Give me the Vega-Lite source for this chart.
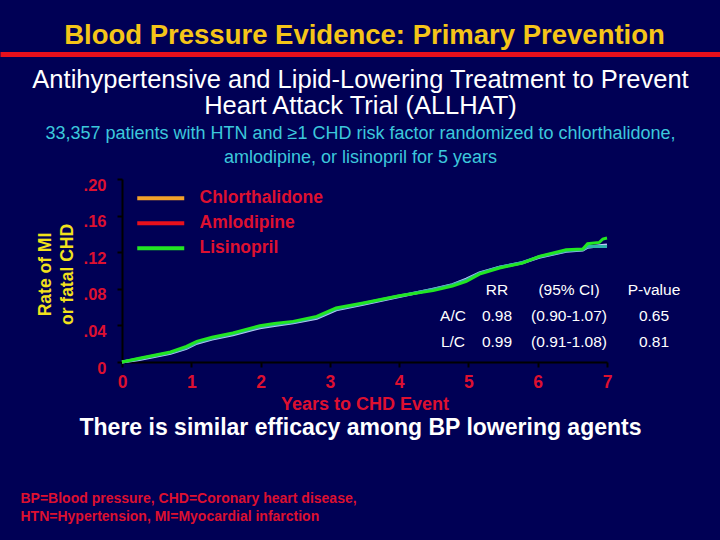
{
  "$schema": "https://vega.github.io/schema/vega-lite/v6.json",
  "width": 485,
  "height": 183,
  "autosize": {"type": "none"},
  "padding": {"left": 122, "top": 179, "right": 113, "bottom": 178},
  "background": "#000055",
  "config": {"view": {"stroke": null}, "axis": {"grid": false}},
  "title": {
    "text": "Blood Pressure Evidence: Primary Prevention",
    "color": "#f5c518",
    "font": "Liberation Sans",
    "fontSize": 27.5,
    "fontWeight": "bold",
    "anchor": "middle",
    "baseline": "alphabetic",
    "offset": 6,
    "dy": 23
  },
  "datasets": {
    "curves": [
      {"drug": "Chlorthalidone", "year": 0, "rate": 0},
      {"drug": "Chlorthalidone", "year": 0.25, "rate": 0.0028},
      {"drug": "Chlorthalidone", "year": 0.45, "rate": 0.0058},
      {"drug": "Chlorthalidone", "year": 0.7, "rate": 0.0095},
      {"drug": "Chlorthalidone", "year": 0.93, "rate": 0.0148},
      {"drug": "Chlorthalidone", "year": 1.08, "rate": 0.0205},
      {"drug": "Chlorthalidone", "year": 1.3, "rate": 0.025},
      {"drug": "Chlorthalidone", "year": 1.6, "rate": 0.0298},
      {"drug": "Chlorthalidone", "year": 1.99, "rate": 0.0375},
      {"drug": "Chlorthalidone", "year": 2.2, "rate": 0.04},
      {"drug": "Chlorthalidone", "year": 2.47, "rate": 0.0428},
      {"drug": "Chlorthalidone", "year": 2.81, "rate": 0.0478},
      {"drug": "Chlorthalidone", "year": 3.09, "rate": 0.057},
      {"drug": "Chlorthalidone", "year": 3.48, "rate": 0.063},
      {"drug": "Chlorthalidone", "year": 4.0, "rate": 0.0715},
      {"drug": "Chlorthalidone", "year": 4.49, "rate": 0.0795},
      {"drug": "Chlorthalidone", "year": 4.77, "rate": 0.0845},
      {"drug": "Chlorthalidone", "year": 4.97, "rate": 0.0905},
      {"drug": "Chlorthalidone", "year": 5.16, "rate": 0.0975},
      {"drug": "Chlorthalidone", "year": 5.45, "rate": 0.1035},
      {"drug": "Chlorthalidone", "year": 5.78, "rate": 0.1085},
      {"drug": "Chlorthalidone", "year": 6.02, "rate": 0.1145},
      {"drug": "Chlorthalidone", "year": 6.41, "rate": 0.121},
      {"drug": "Chlorthalidone", "year": 6.65, "rate": 0.1225},
      {"drug": "Chlorthalidone", "year": 6.72, "rate": 0.1255},
      {"drug": "Chlorthalidone", "year": 6.89, "rate": 0.127},
      {"drug": "Chlorthalidone", "year": 7.0, "rate": 0.128},
      {"drug": "Amlodipine", "year": 0, "rate": 0},
      {"drug": "Amlodipine", "year": 0.25, "rate": 0.0035},
      {"drug": "Amlodipine", "year": 0.45, "rate": 0.0065},
      {"drug": "Amlodipine", "year": 0.7, "rate": 0.0102},
      {"drug": "Amlodipine", "year": 0.93, "rate": 0.0158},
      {"drug": "Amlodipine", "year": 1.08, "rate": 0.0215},
      {"drug": "Amlodipine", "year": 1.3, "rate": 0.026},
      {"drug": "Amlodipine", "year": 1.6, "rate": 0.0308},
      {"drug": "Amlodipine", "year": 1.99, "rate": 0.0386},
      {"drug": "Amlodipine", "year": 2.2, "rate": 0.041},
      {"drug": "Amlodipine", "year": 2.47, "rate": 0.0436},
      {"drug": "Amlodipine", "year": 2.81, "rate": 0.0488},
      {"drug": "Amlodipine", "year": 3.09, "rate": 0.058},
      {"drug": "Amlodipine", "year": 3.48, "rate": 0.064},
      {"drug": "Amlodipine", "year": 4.0, "rate": 0.0722},
      {"drug": "Amlodipine", "year": 4.49, "rate": 0.0792},
      {"drug": "Amlodipine", "year": 4.77, "rate": 0.0842},
      {"drug": "Amlodipine", "year": 4.97, "rate": 0.0895},
      {"drug": "Amlodipine", "year": 5.16, "rate": 0.0968},
      {"drug": "Amlodipine", "year": 5.45, "rate": 0.1035},
      {"drug": "Amlodipine", "year": 5.78, "rate": 0.1088},
      {"drug": "Amlodipine", "year": 6.02, "rate": 0.115},
      {"drug": "Amlodipine", "year": 6.41, "rate": 0.1215},
      {"drug": "Amlodipine", "year": 6.65, "rate": 0.1228},
      {"drug": "Amlodipine", "year": 6.72, "rate": 0.1262},
      {"drug": "Amlodipine", "year": 6.89, "rate": 0.1262},
      {"drug": "Amlodipine", "year": 7.0, "rate": 0.1262},
      {"drug": "Lisinopril", "year": 0, "rate": 0},
      {"drug": "Lisinopril", "year": 0.25, "rate": 0.004},
      {"drug": "Lisinopril", "year": 0.45, "rate": 0.0072},
      {"drug": "Lisinopril", "year": 0.7, "rate": 0.011},
      {"drug": "Lisinopril", "year": 0.93, "rate": 0.017},
      {"drug": "Lisinopril", "year": 1.08, "rate": 0.0225},
      {"drug": "Lisinopril", "year": 1.3, "rate": 0.027},
      {"drug": "Lisinopril", "year": 1.6, "rate": 0.0317},
      {"drug": "Lisinopril", "year": 1.99, "rate": 0.0397},
      {"drug": "Lisinopril", "year": 2.2, "rate": 0.042},
      {"drug": "Lisinopril", "year": 2.47, "rate": 0.0444},
      {"drug": "Lisinopril", "year": 2.81, "rate": 0.0498},
      {"drug": "Lisinopril", "year": 3.09, "rate": 0.059},
      {"drug": "Lisinopril", "year": 3.48, "rate": 0.0645},
      {"drug": "Lisinopril", "year": 4.0, "rate": 0.0725},
      {"drug": "Lisinopril", "year": 4.49, "rate": 0.078},
      {"drug": "Lisinopril", "year": 4.77, "rate": 0.083},
      {"drug": "Lisinopril", "year": 4.97, "rate": 0.088},
      {"drug": "Lisinopril", "year": 5.16, "rate": 0.096},
      {"drug": "Lisinopril", "year": 5.45, "rate": 0.1027},
      {"drug": "Lisinopril", "year": 5.78, "rate": 0.108},
      {"drug": "Lisinopril", "year": 6.02, "rate": 0.1154},
      {"drug": "Lisinopril", "year": 6.41, "rate": 0.1227},
      {"drug": "Lisinopril", "year": 6.65, "rate": 0.1235},
      {"drug": "Lisinopril", "year": 6.72, "rate": 0.1293},
      {"drug": "Lisinopril", "year": 6.89, "rate": 0.1307},
      {"drug": "Lisinopril", "year": 6.94, "rate": 0.1344},
      {"drug": "Lisinopril", "year": 7.0, "rate": 0.1355}
    ],
    "table": [
      {"row": "header", "col": 1, "text": "RR"},
      {"row": "header", "col": 2, "text": "(95% CI)"},
      {"row": "header", "col": 3, "text": "P-value"},
      {"row": "A/C", "col": 0, "text": "A/C"},
      {"row": "A/C", "col": 1, "text": "0.98"},
      {"row": "A/C", "col": 2, "text": "(0.90-1.07)"},
      {"row": "A/C", "col": 3, "text": "0.65"},
      {"row": "L/C", "col": 0, "text": "L/C"},
      {"row": "L/C", "col": 1, "text": "0.99"},
      {"row": "L/C", "col": 2, "text": "(0.91-1.08)"},
      {"row": "L/C", "col": 3, "text": "0.81"}
    ]
  },
  "layer": [
    {
      "data": {"name": "curves"},
      "encoding": {
        "x": {
          "field": "year",
          "type": "quantitative",
          "scale": {"domain": [0, 7], "nice": false, "zero": false},
          "axis": {
            "orient": "bottom",
            "values": [0, 1, 2, 3, 4, 5, 6, 7],
            "format": "d",
            "grid": false,
            "domainColor": "#000000",
            "domainWidth": 2,
            "tickColor": "#000000",
            "tickWidth": 2,
            "tickSize": 5,
            "labelColor": "#dd1030",
            "labelFont": "Liberation Sans",
            "labelFontSize": 17.5,
            "labelFontWeight": "bold",
            "labelPadding": 6,
            "labelFlush": false,
            "labelOverlap": false,
            "title": "Years to CHD Event",
            "titleColor": "#dd1030",
            "titleFont": "Liberation Sans",
            "titleFontSize": 18,
            "titleFontWeight": "bold",
            "titleY": 42,
            "titleBaseline": "middle"
          }
        },
        "y": {
          "field": "rate",
          "type": "quantitative",
          "scale": {"domain": [0, 0.2], "nice": false},
          "axis": {
            "orient": "left",
            "values": [0, 0.04, 0.08, 0.12, 0.16, 0.2],
            "labelExpr": "datum.value == 0 ? '0' : replace(format(datum.value, '.2f'), '0.', '.')",
            "grid": false,
            "domainColor": "#000000",
            "domainWidth": 2,
            "tickColor": "#000000",
            "tickWidth": 2,
            "tickSize": 5,
            "labelColor": "#dd1030",
            "labelFont": "Liberation Sans",
            "labelFontSize": 16.5,
            "labelFontWeight": "bold",
            "labelPadding": 11,
            "labelOffset": 6,
            "labelFlush": false,
            "labelOverlap": false,
            "title": ["Rate of MI", "or fatal CHD"],
            "titleColor": "#f2e21c",
            "titleFont": "Liberation Sans",
            "titleFontSize": 17.5,
            "titleFontWeight": "bold",
            "titleLineHeight": 22,
            "titleX": -77,
            "titleY": 95,
            "titleBaseline": "middle",
            "titleAlign": "center",
            "titleAngle": -90
          }
        }
      },
      "layer": [
        {
          "mark": {"type": "line", "strokeWidth": 1},
          "encoding": {
            "color": {
              "field": "drug",
              "type": "nominal",
              "scale": {
                "domain": ["Chlorthalidone", "Amlodipine", "Lisinopril"],
                "range": ["#f2a12a", "#e8101c", "#22e622"]
              },
              "legend": {
                "orient": "none",
                "legendX": 30,
                "legendY": 10.5,
                "title": null,
                "padding": 0,
                "symbolType": "M-4,0H4",
                "symbolSize": 138,
                "symbolStrokeWidth": 4,
                "symbolOpacity": 1,
                "labelColor": "#dd1030",
                "labelFont": "Liberation Sans",
                "labelFontSize": 17.5,
                "labelFontWeight": "bold",
                "labelOffset": 30,
                "rowPadding": 6
              }
            }
          }
        },
        {
          "mark": {"type": "line", "strokeWidth": 3, "interpolate": "linear"},
          "encoding": {
            "stroke": {
              "field": "drug",
              "type": "nominal",
              "scale": {
                "domain": ["Chlorthalidone", "Amlodipine", "Lisinopril"],
                "range": ["#b8c8f2", "#2fb4aa", "#22e622"]
              },
              "legend": null
            }
          }
        }
      ]
    },
    {
      "data": {"name": "table"},
      "mark": {"type": "text", "color": "#ffffff", "font": "Liberation Sans", "fontSize": 15.5, "align": "center", "baseline": "middle"},
      "encoding": {
        "x": {
          "field": "col",
          "type": "quantitative",
          "scale": {"domain": [0, 1, 2, 3], "range": [331, 375, 447, 532]},
          "axis": null
        },
        "y": {
          "field": "row",
          "type": "nominal",
          "scale": {"type": "point", "domain": ["header", "A/C", "L/C"], "range": [111, 163], "padding": 0},
          "axis": null
        },
        "text": {"field": "text"}
      }
    },
    {
      "data": {"values": [{}]},
      "mark": {"type": "point", "opacity": 0},
      "encoding": {
        "x": {
          "datum": 0,
          "type": "quantitative",
          "scale": {"domain": [0, 1]},
          "axis": {
            "orient": "top",
            "domain": false,
            "ticks": false,
            "labels": false,
            "title": ["33,357 patients with HTN and ≥1 CHD risk factor randomized to chlorthalidone,", "amlodipine, or lisinopril for 5 years"],
            "titleColor": "#3cc8dc",
            "titleFont": "Liberation Sans",
            "titleFontSize": 18,
            "titleFontWeight": "normal",
            "titleLineHeight": 24,
            "titleBaseline": "middle",
            "titleAlign": "center",
            "titleX": 238,
            "titleY": -46
          }
        }
      }
    },
    {
      "data": {"values": [{}]},
      "mark": {"type": "point", "opacity": 0},
      "encoding": {
        "x": {
          "datum": 0,
          "type": "quantitative",
          "scale": {"domain": [0, 1], "range": [-122, 598]},
          "axis": {
            "orient": "top",
            "offset": 125,
            "domain": true,
            "domainColor": "#e8101c",
            "domainWidth": 5,
            "ticks": false,
            "labels": false,
            "title": ["Antihypertensive and Lipid-Lowering Treatment to Prevent", "Heart Attack Trial (ALLHAT)"],
            "titleColor": "#ffffff",
            "titleFont": "Liberation Sans",
            "titleFontSize": 25.5,
            "titleFontWeight": "normal",
            "titleLineHeight": 26.5,
            "titleBaseline": "middle",
            "titleAlign": "center",
            "titleX": 238,
            "titleY": 25
          }
        }
      }
    },
    {
      "data": {"values": [{}]},
      "mark": {"type": "point", "opacity": 0},
      "encoding": {
        "x": {
          "datum": 0,
          "type": "quantitative",
          "scale": {"domain": [0, 1]},
          "axis": {
            "orient": "bottom",
            "domain": false,
            "ticks": false,
            "labels": false,
            "title": "There is similar efficacy among BP lowering agents",
            "titleColor": "#ffffff",
            "titleFont": "Liberation Sans",
            "titleFontSize": 23,
            "titleFontWeight": "bold",
            "titleBaseline": "middle",
            "titleAlign": "center",
            "titleX": 238,
            "titleY": 65
          }
        }
      }
    },
    {
      "data": {"values": [{}]},
      "mark": {"type": "point", "opacity": 0},
      "encoding": {
        "x": {
          "datum": 0,
          "type": "quantitative",
          "scale": {"domain": [0, 1]},
          "axis": {
            "orient": "bottom",
            "domain": false,
            "ticks": false,
            "labels": false,
            "title": ["BP=Blood pressure, CHD=Coronary heart disease,", "HTN=Hypertension, MI=Myocardial infarction"],
            "titleColor": "#dd1030",
            "titleFont": "Liberation Sans",
            "titleFontSize": 14,
            "titleFontWeight": "bold",
            "titleLineHeight": 18,
            "titleBaseline": "middle",
            "titleAlign": "left",
            "titleX": -102,
            "titleY": 136
          }
        }
      }
    }
  ],
  "resolve": {
    "scale": {"x": "independent", "y": "independent"},
    "axis": {"x": "independent", "y": "independent"}
  }
}
